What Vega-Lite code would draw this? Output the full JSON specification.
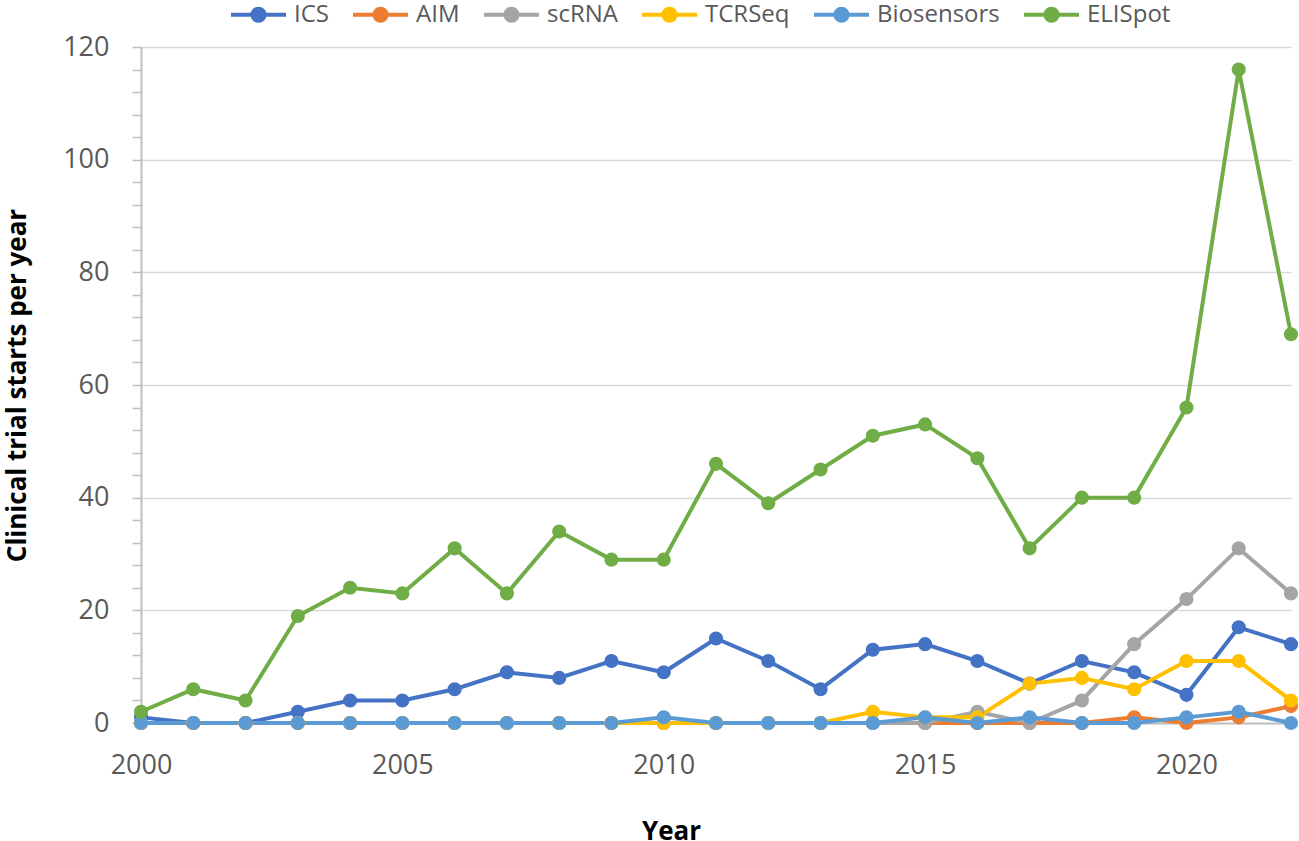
{
  "$schema": "https://vega.github.io/schema/vega-lite/v6.json",
  "width": 1150,
  "height": 676,
  "autosize": "none",
  "padding": {"left": 141, "top": 47, "right": 8, "bottom": 118},
  "background": "white",
  "config": {"font": "Open Sans", "view": {"stroke": null}},
  "data": {
    "values": [
      {"year": 2000, "series": "ICS", "value": 1}, {"year": 2001, "series": "ICS", "value": 0},
      {"year": 2002, "series": "ICS", "value": 0}, {"year": 2003, "series": "ICS", "value": 2},
      {"year": 2004, "series": "ICS", "value": 4}, {"year": 2005, "series": "ICS", "value": 4},
      {"year": 2006, "series": "ICS", "value": 6}, {"year": 2007, "series": "ICS", "value": 9},
      {"year": 2008, "series": "ICS", "value": 8}, {"year": 2009, "series": "ICS", "value": 11},
      {"year": 2010, "series": "ICS", "value": 9}, {"year": 2011, "series": "ICS", "value": 15},
      {"year": 2012, "series": "ICS", "value": 11}, {"year": 2013, "series": "ICS", "value": 6},
      {"year": 2014, "series": "ICS", "value": 13}, {"year": 2015, "series": "ICS", "value": 14},
      {"year": 2016, "series": "ICS", "value": 11}, {"year": 2017, "series": "ICS", "value": 7},
      {"year": 2018, "series": "ICS", "value": 11}, {"year": 2019, "series": "ICS", "value": 9},
      {"year": 2020, "series": "ICS", "value": 5}, {"year": 2021, "series": "ICS", "value": 17},
      {"year": 2022, "series": "ICS", "value": 14},

      {"year": 2000, "series": "AIM", "value": 0}, {"year": 2001, "series": "AIM", "value": 0},
      {"year": 2002, "series": "AIM", "value": 0}, {"year": 2003, "series": "AIM", "value": 0},
      {"year": 2004, "series": "AIM", "value": 0}, {"year": 2005, "series": "AIM", "value": 0},
      {"year": 2006, "series": "AIM", "value": 0}, {"year": 2007, "series": "AIM", "value": 0},
      {"year": 2008, "series": "AIM", "value": 0}, {"year": 2009, "series": "AIM", "value": 0},
      {"year": 2010, "series": "AIM", "value": 0}, {"year": 2011, "series": "AIM", "value": 0},
      {"year": 2012, "series": "AIM", "value": 0}, {"year": 2013, "series": "AIM", "value": 0},
      {"year": 2014, "series": "AIM", "value": 0}, {"year": 2015, "series": "AIM", "value": 0},
      {"year": 2016, "series": "AIM", "value": 0}, {"year": 2017, "series": "AIM", "value": 0},
      {"year": 2018, "series": "AIM", "value": 0}, {"year": 2019, "series": "AIM", "value": 1},
      {"year": 2020, "series": "AIM", "value": 0}, {"year": 2021, "series": "AIM", "value": 1},
      {"year": 2022, "series": "AIM", "value": 3},

      {"year": 2000, "series": "scRNA", "value": 0}, {"year": 2001, "series": "scRNA", "value": 0},
      {"year": 2002, "series": "scRNA", "value": 0}, {"year": 2003, "series": "scRNA", "value": 0},
      {"year": 2004, "series": "scRNA", "value": 0}, {"year": 2005, "series": "scRNA", "value": 0},
      {"year": 2006, "series": "scRNA", "value": 0}, {"year": 2007, "series": "scRNA", "value": 0},
      {"year": 2008, "series": "scRNA", "value": 0}, {"year": 2009, "series": "scRNA", "value": 0},
      {"year": 2010, "series": "scRNA", "value": 0}, {"year": 2011, "series": "scRNA", "value": 0},
      {"year": 2012, "series": "scRNA", "value": 0}, {"year": 2013, "series": "scRNA", "value": 0},
      {"year": 2014, "series": "scRNA", "value": 0}, {"year": 2015, "series": "scRNA", "value": 0},
      {"year": 2016, "series": "scRNA", "value": 2}, {"year": 2017, "series": "scRNA", "value": 0},
      {"year": 2018, "series": "scRNA", "value": 4}, {"year": 2019, "series": "scRNA", "value": 14},
      {"year": 2020, "series": "scRNA", "value": 22}, {"year": 2021, "series": "scRNA", "value": 31},
      {"year": 2022, "series": "scRNA", "value": 23},

      {"year": 2000, "series": "TCRSeq", "value": 0}, {"year": 2001, "series": "TCRSeq", "value": 0},
      {"year": 2002, "series": "TCRSeq", "value": 0}, {"year": 2003, "series": "TCRSeq", "value": 0},
      {"year": 2004, "series": "TCRSeq", "value": 0}, {"year": 2005, "series": "TCRSeq", "value": 0},
      {"year": 2006, "series": "TCRSeq", "value": 0}, {"year": 2007, "series": "TCRSeq", "value": 0},
      {"year": 2008, "series": "TCRSeq", "value": 0}, {"year": 2009, "series": "TCRSeq", "value": 0},
      {"year": 2010, "series": "TCRSeq", "value": 0}, {"year": 2011, "series": "TCRSeq", "value": 0},
      {"year": 2012, "series": "TCRSeq", "value": 0}, {"year": 2013, "series": "TCRSeq", "value": 0},
      {"year": 2014, "series": "TCRSeq", "value": 2}, {"year": 2015, "series": "TCRSeq", "value": 1},
      {"year": 2016, "series": "TCRSeq", "value": 1}, {"year": 2017, "series": "TCRSeq", "value": 7},
      {"year": 2018, "series": "TCRSeq", "value": 8}, {"year": 2019, "series": "TCRSeq", "value": 6},
      {"year": 2020, "series": "TCRSeq", "value": 11}, {"year": 2021, "series": "TCRSeq", "value": 11},
      {"year": 2022, "series": "TCRSeq", "value": 4},

      {"year": 2000, "series": "Biosensors", "value": 0}, {"year": 2001, "series": "Biosensors", "value": 0},
      {"year": 2002, "series": "Biosensors", "value": 0}, {"year": 2003, "series": "Biosensors", "value": 0},
      {"year": 2004, "series": "Biosensors", "value": 0}, {"year": 2005, "series": "Biosensors", "value": 0},
      {"year": 2006, "series": "Biosensors", "value": 0}, {"year": 2007, "series": "Biosensors", "value": 0},
      {"year": 2008, "series": "Biosensors", "value": 0}, {"year": 2009, "series": "Biosensors", "value": 0},
      {"year": 2010, "series": "Biosensors", "value": 1}, {"year": 2011, "series": "Biosensors", "value": 0},
      {"year": 2012, "series": "Biosensors", "value": 0}, {"year": 2013, "series": "Biosensors", "value": 0},
      {"year": 2014, "series": "Biosensors", "value": 0}, {"year": 2015, "series": "Biosensors", "value": 1},
      {"year": 2016, "series": "Biosensors", "value": 0}, {"year": 2017, "series": "Biosensors", "value": 1},
      {"year": 2018, "series": "Biosensors", "value": 0}, {"year": 2019, "series": "Biosensors", "value": 0},
      {"year": 2020, "series": "Biosensors", "value": 1}, {"year": 2021, "series": "Biosensors", "value": 2},
      {"year": 2022, "series": "Biosensors", "value": 0},

      {"year": 2000, "series": "ELISpot", "value": 2}, {"year": 2001, "series": "ELISpot", "value": 6},
      {"year": 2002, "series": "ELISpot", "value": 4}, {"year": 2003, "series": "ELISpot", "value": 19},
      {"year": 2004, "series": "ELISpot", "value": 24}, {"year": 2005, "series": "ELISpot", "value": 23},
      {"year": 2006, "series": "ELISpot", "value": 31}, {"year": 2007, "series": "ELISpot", "value": 23},
      {"year": 2008, "series": "ELISpot", "value": 34}, {"year": 2009, "series": "ELISpot", "value": 29},
      {"year": 2010, "series": "ELISpot", "value": 29}, {"year": 2011, "series": "ELISpot", "value": 46},
      {"year": 2012, "series": "ELISpot", "value": 39}, {"year": 2013, "series": "ELISpot", "value": 45},
      {"year": 2014, "series": "ELISpot", "value": 51}, {"year": 2015, "series": "ELISpot", "value": 53},
      {"year": 2016, "series": "ELISpot", "value": 47}, {"year": 2017, "series": "ELISpot", "value": 31},
      {"year": 2018, "series": "ELISpot", "value": 40}, {"year": 2019, "series": "ELISpot", "value": 40},
      {"year": 2020, "series": "ELISpot", "value": 56}, {"year": 2021, "series": "ELISpot", "value": 116},
      {"year": 2022, "series": "ELISpot", "value": 69}
    ]
  },
  "mark": {"type": "line", "strokeWidth": 4, "point": {"filled": true, "size": 200, "opacity": 1}},
  "encoding": {
    "x": {
      "field": "year",
      "type": "quantitative",
      "scale": {"domain": [2000, 2022], "nice": false, "zero": false},
      "axis": {
        "values": [2000, 2005, 2010, 2015, 2020],
        "format": "d",
        "grid": false,
        "ticks": false,
        "labelFlush": false,
        "labelFontSize": 27,
        "labelColor": "#595959",
        "labelPadding": 29,
        "domainColor": "#bfbfbf",
        "domainWidth": 2,
        "title": "Year",
        "titleFontSize": 26,
        "titleFontWeight": "bold",
        "titleColor": "#000000",
        "titleX": 530,
        "titleY": 116,
        "titleBaseline": "alphabetic"
      }
    },
    "y": {
      "field": "value",
      "type": "quantitative",
      "scale": {"domain": [0, 120], "nice": false},
      "axis": {
        "values": [0, 4, 8, 12, 16, 20, 24, 28, 32, 36, 40, 44, 48, 52, 56, 60, 64, 68, 72, 76, 80, 84, 88, 92, 96, 100, 104, 108, 112, 116, 120],
        "labelExpr": "datum.value % 20 == 0 ? datum.label : ''",
        "gridColor": "#d9d9d9",
        "gridWidth": 1.5,
        "gridOpacity": {"condition": {"test": "datum.value % 20 == 0", "value": 1}, "value": 0},
        "domainColor": "#bfbfbf",
        "domainWidth": 2,
        "tickColor": "#bfbfbf",
        "tickSize": 9,
        "tickWidth": 1.5,
        "labelFontSize": 27,
        "labelColor": "#595959",
        "labelPadding": 23,
        "title": "Clinical trial starts per year",
        "titleFontSize": 26,
        "titleFontWeight": "bold",
        "titleColor": "#000000",
        "titleAngle": 270,
        "titleX": -116,
        "titleY": 338,
        "titleAlign": "center",
        "titleBaseline": "alphabetic"
      }
    },
    "color": {
      "field": "series",
      "type": "nominal",
      "sort": null,
      "scale": {
        "domain": ["ICS", "AIM", "scRNA", "TCRSeq", "Biosensors", "ELISpot"],
        "range": ["#4472c4", "#ed7d31", "#a5a5a5", "#ffc000", "#5b9bd5", "#70ad47"]
      },
      "legend": {
        "orient": "none",
        "direction": "horizontal",
        "legendX": 88,
        "legendY": -62,
        "title": null,
        "padding": 0,
        "symbolType": "M-1,0L1,0M0.22,0A0.22,0.22,0,1,1,-0.22,0A0.22,0.22,0,1,1,0.22,0Z",
        "symbolSize": 3025,
        "symbolStrokeWidth": 4,
        "labelFontSize": 24,
        "labelColor": "#595959",
        "labelOffset": 6,
        "columnPadding": 16,
        "encode": {"symbols": {"update": {"fill": {"scale": "color", "field": "value"}}}}
      }
    }
  }
}
